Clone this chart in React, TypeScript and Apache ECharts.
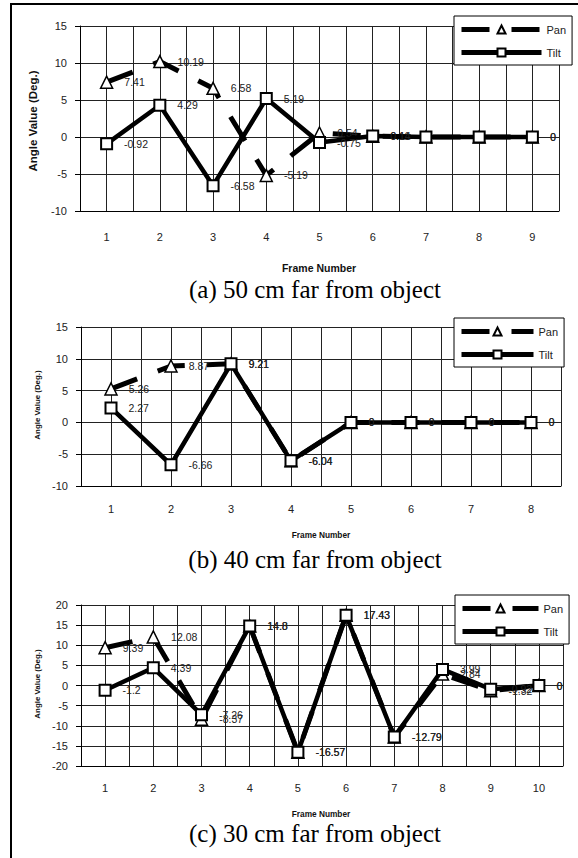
import React, { useEffect, useRef } from "react";
import * as echarts from "echarts";

// ---------- data ----------
const framesA = [1, 2, 3, 4, 5, 6, 7, 8, 9];
const panA = [7.41, 10.19, 6.58, -5.19, 0.54, 0.11, 0, 0, 0];
const tiltA = [-0.92, 4.29, -6.58, 5.19, -0.75, 0.14, 0, 0, 0];
const hiddenLabelFramesA = [7, 8];

const framesB = [1, 2, 3, 4, 5, 6, 7, 8];
const panB = [5.26, 8.87, 9.21, -6.04, 0, 0, 0, 0];
const tiltB = [2.27, -6.66, 9.21, -6.04, 0, 0, 0, 0];
const hiddenLabelFramesB: number[] = [];

const framesC = [1, 2, 3, 4, 5, 6, 7, 8, 9, 10];
const panC = [9.39, 12.08, -8.37, 14.8, -16.57, 17.43, -12.79, 2.84, -1.32, 0];
const tiltC = [-1.2, 4.39, -7.26, 14.8, -16.57, 17.43, -12.79, 3.99, -0.92, 0];
const hiddenLabelFramesC: number[] = [];

const yRangeA = [-10, 15];
const yRangeB = [-10, 15];
const yRangeC = [-20, 20];
const yStep = 5;

const seriesNames = ["Pan", "Tilt"];
const yAxisTitle = "Angle Value (Deg.)";
const xAxisTitle = "Frame Number";
const captions = [
  "(a) 50 cm far from object",
  "(b) 40 cm far from object",
  "(c) 30 cm far from object",
];

// ---------- layout ----------
const SANS = "'Liberation Sans', Arial, sans-serif";
const SERIF = "'Liberation Serif', 'Times New Roman', serif";
const INK = "#111";

const panels = [
  {
    frames: framesA, pan: panA, tilt: tiltA, hidden: hiddenLabelFramesA, yRange: yRangeA,
    grid: { left: 80, top: 26, width: 479, height: 185 },
    legend: { left: 454, top: 16, itemWidth: 80 },
    yName: { x: 33, y: 121, size: 11.5 },
    xName: { x: 319, y: 268, size: 10.5 },
    caption: { x: 315, y: 289 },
    labelMargin: 20,
  },
  {
    frames: framesB, pan: panB, tilt: tiltB, hidden: hiddenLabelFramesB, yRange: yRangeB,
    grid: { left: 81, top: 327, width: 480, height: 159 },
    legend: { left: 454, top: 318, itemWidth: 72 },
    yName: { x: 37, y: 405, size: 7.9 },
    xName: { x: 321, y: 535, size: 8.3 },
    caption: { x: 315, y: 559 },
    labelMargin: 17,
  },
  {
    frames: framesC, pan: panC, tilt: tiltC, hidden: hiddenLabelFramesC, yRange: yRangeC,
    grid: { left: 81, top: 605, width: 482, height: 161 },
    legend: { left: 455, top: 595, itemWidth: 76 },
    yName: { x: 37, y: 684, size: 7.9 },
    xName: { x: 321, y: 814, size: 8.3 },
    caption: { x: 315, y: 833 },
    labelMargin: 16,
  },
];

function buildOption() {
  const grid: any[] = [];
  const xAxis: any[] = [];
  const yAxis: any[] = [];
  const legend: any[] = [];
  const series: any[] = [];
  const graphic: any[] = [
    { type: "line", shape: { x1: 10, y1: 4, x2: 578, y2: 4 }, style: { stroke: "#000", lineWidth: 2 } },
    { type: "line", shape: { x1: 11, y1: 3, x2: 11, y2: 858 }, style: { stroke: "#000", lineWidth: 2 } },
  ];

  panels.forEach((p, i) => {
    grid.push({ ...p.grid, containLabel: false });
    xAxis.push({
      type: "value",
      gridIndex: i,
      min: 0.5,
      max: p.frames.length + 0.5,
      interval: 0.5,
      axisLine: { show: true, onZero: false, lineStyle: { color: "#000", width: 1 } },
      axisTick: { show: false },
      axisLabel: {
        margin: p.labelMargin,
        color: "#222",
        fontSize: 11,
        fontFamily: SANS,
        formatter: (v: number) => (Number.isInteger(v) ? String(v) : ""),
      },
      splitLine: { show: true, lineStyle: { color: "#222", width: 1 } },
    });
    yAxis.push({
      type: "value",
      gridIndex: i,
      min: p.yRange[0],
      max: p.yRange[1],
      interval: yStep,
      axisLine: { show: true, lineStyle: { color: "#000", width: 1 } },
      axisTick: { show: true, length: 5, inside: false, lineStyle: { color: "#000" } },
      axisLabel: { margin: 13, color: "#222", fontSize: 11, fontFamily: SANS },
      splitLine: { show: true, lineStyle: { color: "#222", width: 1 } },
    });
    legend.push({
      data: seriesNames,
      orient: "vertical",
      left: p.legend.left,
      top: p.legend.top,
      align: "left",
      itemWidth: p.legend.itemWidth,
      itemHeight: 10,
      itemGap: 12,
      padding: [8, 6, 7, 5],
      borderColor: "#000",
      borderWidth: 1,
      backgroundColor: "#fff",
      textStyle: { color: "#222", fontSize: 11, fontFamily: SANS },
      lineStyle: { width: 5 },
      selectedMode: false,
    });

    const label = {
      show: true,
      position: "right",
      distance: 11,
      color: "#222",
      fontSize: 10.5,
      fontFamily: SANS,
      formatter: (q: any) => String(q.value[1]),
    };
    const mk = (vals: number[]) =>
      p.frames.map((f, k) => {
        const item: any = { value: [f, vals[k]] };
        if (p.hidden.includes(f)) item.label = { show: false };
        return item;
      });

    series.push({
      type: "line",
      name: seriesNames[0],
      xAxisIndex: i,
      yAxisIndex: i,
      data: mk(p.pan),
      symbol: "triangle",
      symbolSize: 12,
      lineStyle: { color: "#000", width: 5, type: [28, 22], cap: "butt" },
      itemStyle: { color: "#fff", borderColor: "#000", borderWidth: 1.5 },
      label,
      silent: true,
      z: 2,
    });
    series.push({
      type: "line",
      name: seriesNames[1],
      xAxisIndex: i,
      yAxisIndex: i,
      data: mk(p.tilt),
      symbol: "rect",
      symbolSize: 11,
      lineStyle: { color: "#000", width: 4.5 },
      itemStyle: { color: "#fff", borderColor: "#000", borderWidth: 2 },
      label,
      silent: true,
      z: 3,
    });

    graphic.push({
      type: "text",
      x: p.yName.x,
      y: p.yName.y,
      rotation: Math.PI / 2,
      style: {
        text: yAxisTitle,
        font: `bold ${p.yName.size}px ${SANS}`,
        fill: INK,
        align: "center",
        verticalAlign: "middle",
      },
    });
    graphic.push({
      type: "text",
      x: p.xName.x,
      y: p.xName.y,
      style: {
        text: xAxisTitle,
        font: `bold ${p.xName.size}px ${SANS}`,
        fill: INK,
        align: "center",
        verticalAlign: "middle",
      },
    });
    graphic.push({
      type: "text",
      x: p.caption.x,
      y: p.caption.y,
      style: {
        text: captions[i],
        font: `25px ${SERIF}`,
        fill: "#000",
        align: "center",
        verticalAlign: "middle",
      },
    });
  });

  return {
    animation: false,
    backgroundColor: "#fff",
    grid,
    xAxis,
    yAxis,
    legend,
    series,
    graphic,
  };
}

export default function App() {
  const ref = useRef<HTMLDivElement>(null);
  useEffect(() => {
    if (!ref.current) return;
    const chart = echarts.init(ref.current, undefined, { renderer: "svg" });
    chart.setOption(buildOption() as any);
    return () => chart.dispose();
  }, []);
  return (
    <div
      ref={ref}
      style={{ position: "absolute", left: 0, top: 0, width: 578, height: 858, background: "#fff" }}
    />
  );
}
